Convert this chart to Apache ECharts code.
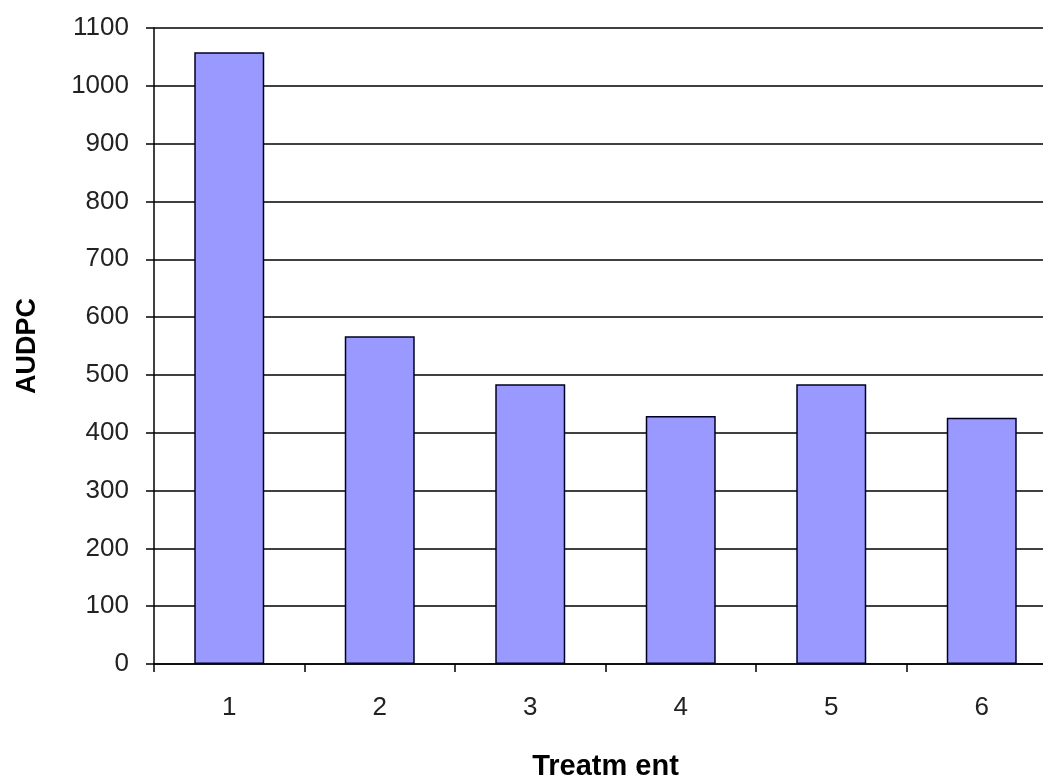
<!DOCTYPE html>
<html><head><meta charset="utf-8">
<script src="https://cdn.jsdelivr.net/npm/echarts@6/dist/echarts.min.js"></script>
<style>html,body{margin:0;padding:0;background:#fff;overflow:hidden}#c{width:1043px;height:778px}</style>
</head><body><div id="c"></div>
<script>
const categories = ['1','2','3','4','5','6'];
const audpc = [1058, 567, 484, 429, 484, 426];
const yTicks = [0,100,200,300,400,500,600,700,800,900,1000,1100];

const chart = echarts.init(document.getElementById('c'), null, {renderer:'canvas'});
chart.setOption({
  animation:false,
  backgroundColor:'#fff',
  grid:{left:154, top:28, width:903, height:636, containLabel:false, outerBoundsMode:'none'},
  xAxis:{
    type:'category', data:categories,
    name:'Treatm ent', nameLocation:'middle', nameGap:88,
    nameTextStyle:{fontFamily:'Liberation Sans', fontWeight:'bold', fontSize:29, color:'#000'},
    axisLine:{lineStyle:{color:'#000', width:1.5}},
    axisTick:{show:true, inside:false, length:8, lineStyle:{color:'#000', width:1.5}},
    axisLabel:{fontFamily:'Liberation Sans', fontSize:26, color:'#222', margin:31},
    splitLine:{show:false}
  },
  yAxis:{
    type:'value', min:0, max:1100, interval:100,
    name:'AUDPC', nameLocation:'middle', nameGap:113, nameRotate:90,
    nameTextStyle:{fontFamily:'Liberation Sans', fontWeight:'bold', fontSize:27, color:'#000'},
    axisLine:{show:true, lineStyle:{color:'#000', width:1.5}},
    axisTick:{show:true, inside:false, length:8, lineStyle:{color:'#000', width:1.5}},
    axisLabel:{fontFamily:'Liberation Sans', fontSize:26, color:'#222', margin:25,
      formatter:v=>yTicks.includes(v)?String(v):''},
    splitLine:{show:true, lineStyle:{color:'#000', width:1.5}}
  },
  series:[{
    type:'bar', data:audpc, barWidth:'46.5%',
    itemStyle:{color:'#9999FF', borderColor:'#000022', borderWidth:1.5},
    z:3
  }]
});
</script></body></html>
